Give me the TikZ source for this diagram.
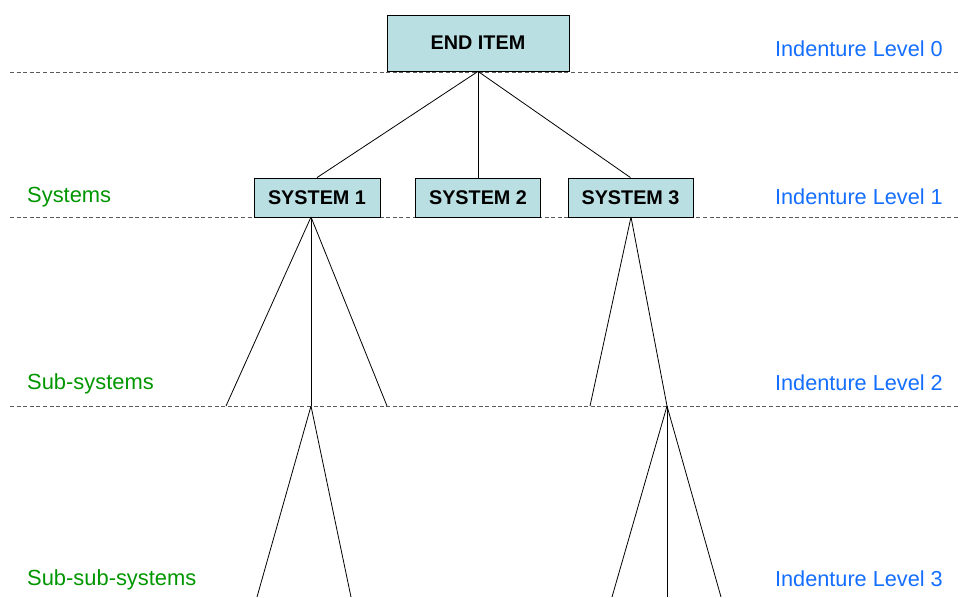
\documentclass[tikz,border=0pt]{standalone}
\usepackage{fontspec}
\setmainfont{Liberation Sans}
\definecolor{boxfill}{RGB}{186,223,226}
\definecolor{levelblue}{RGB}{20,110,255}
\definecolor{groupgreen}{RGB}{0,150,0}
\definecolor{rulegray}{RGB}{90,90,90}
\tikzset{
  itembox/.style={draw=black, line width=0.8pt, fill=boxfill, inner sep=0pt,
    font=\fontsize{19.8}{22}\selectfont\bfseries},
  levellabel/.style={inner sep=0pt, anchor=base east, text=levelblue,
    font=\fontsize{21.7}{24}\selectfont},
  grouplabel/.style={inner sep=0pt, anchor=base west, text=groupgreen,
    font=\fontsize{21.9}{24}\selectfont},
  levelrule/.style={draw=rulegray, line width=0.9pt, dash pattern=on 4pt off 2.6pt},
  branch/.style={draw=black, line width=0.8pt}
}
\begin{document}
\begin{tikzpicture}[x=1pt,y=-1pt]
\useasboundingbox (0,0) rectangle (960,597);

% indenture level separators
\draw[levelrule] (10,72) -- (960,72);
\draw[levelrule] (10,217) -- (960,217);
\draw[levelrule] (10,406) -- (960,406);

% boxes
\node[itembox, minimum width=182pt, minimum height=56pt] (end) at (478,43) {END ITEM};
\node[itembox, minimum width=126pt, minimum height=39pt] (s1) at (317,197.5) {SYSTEM 1};
\node[itembox, minimum width=125pt, minimum height=39pt] (s2) at (478,197.5) {SYSTEM 2};
\node[itembox, minimum width=125pt, minimum height=39pt] (s3) at (630.5,197.5) {SYSTEM 3};

% branch points and free ends
\coordinate (s1root) at (311,217);
\coordinate (s3root) at (631,217);
\coordinate (a1) at (226,406);
\coordinate (a2) at (311,406);
\coordinate (a3) at (387,406);
\coordinate (b1) at (590,406);
\coordinate (b2) at (667,406);
\coordinate (c1) at (257,597);
\coordinate (c2) at (351,597);
\coordinate (d1) at (612,597);
\coordinate (d2) at (667,597);
\coordinate (d3) at (721,597);

% end item to systems
\draw[branch] (end.south) -- (s1.north);
\draw[branch] (end.south) -- (s2.north);
\draw[branch] (end.south) -- (s3.north);

% systems to sub-systems
\draw[branch] (s1root) -- (a1);
\draw[branch] (s1root) -- (a2);
\draw[branch] (s1root) -- (a3);
\draw[branch] (s3root) -- (b1);
\draw[branch] (s3root) -- (b2);

% sub-systems to sub-sub-systems
\draw[branch] (a2) -- (c1);
\draw[branch] (a2) -- (c2);
\draw[branch] (b2) -- (d1);
\draw[branch] (b2) -- (d2);
\draw[branch] (b2) -- (d3);

% level captions
\node[levellabel] (l0) at (943,56.5) {Indenture Level 0};
\node[levellabel] (l1) at (943,204) {Indenture Level 1};
\node[levellabel] (l2) at (943,390) {Indenture Level 2};
\node[levellabel] (l3) at (943,586.5) {Indenture Level 3};

\node[grouplabel] (g1) at (27,202) {Systems};
\node[grouplabel] (g2) at (27,389) {Sub-systems};
\node[grouplabel] (g3) at (27,585) {Sub-sub-systems};
\end{tikzpicture}
\end{document}
